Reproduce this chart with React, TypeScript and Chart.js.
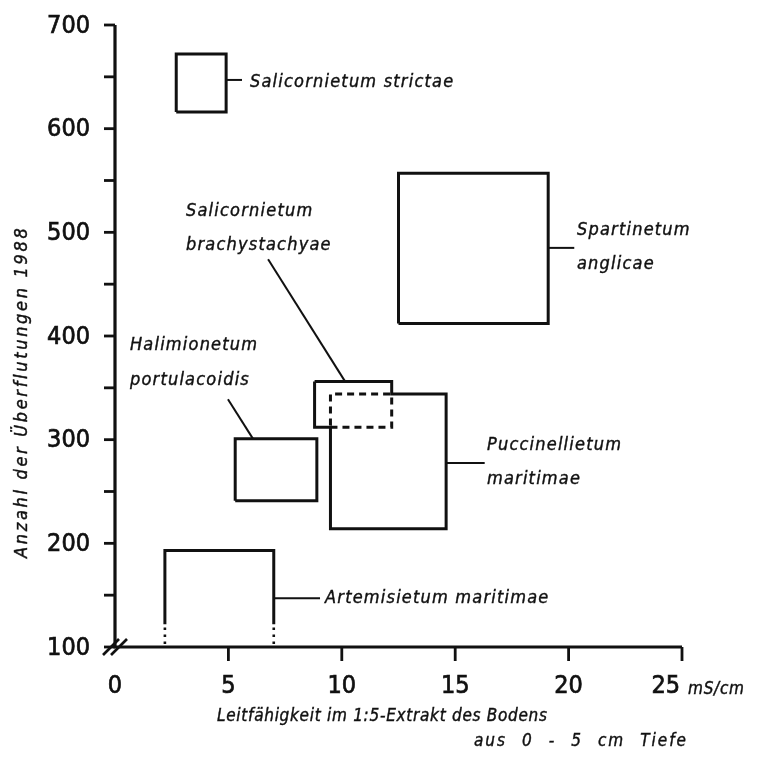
import React, { useEffect, useRef } from "react";
import { Chart, registerables } from "chart.js";

Chart.register(...registerables);

// ---- axis definition ----
const X_MIN = 0;
const X_MAX = 25;
const Y_MIN = 100;
const Y_MAX = 700;
const xTickValues = [0, 5, 10, 15, 20, 25];
const yTickValues = [100, 200, 300, 400, 500, 600, 700];
const yMinorTickValues = [150, 250, 350, 450, 550, 650];
const xUnit = "mS/cm";
const xTitleLines = ["Leitfähigkeit im 1:5-Extrakt des Bodens", "aus 0 - 5 cm Tiefe"];
const yTitle = "Anzahl der Überflutungen 1988";

// ---- data: plant communities, ranges of conductivity and flood counts ----
const communities = [
  "Salicornietum strictae",
  "Spartinetum anglicae",
  "Salicornietum brachystachyae",
  "Halimionetum portulacoidis",
  "Puccinellietum maritimae",
  "Artemisietum maritimae",
];
const condLow = [2.7, 12.5, 8.8, 5.3, 9.5, 2.2];
const condHigh = [4.9, 19.1, 12.2, 8.9, 14.6, 7.0];
const floodLow = [616, 412, 312, 241, 214, 122];
const floodHigh = [672, 557, 356, 301, 344, 193];

// label text lines per community
const labelLines = [
  ["Salicornietum strictae"],
  ["Spartinetum", "anglicae"],
  ["Salicornietum", "brachystachyae"],
  ["Halimionetum", "portulacoidis"],
  ["Puccinellietum", "maritimae"],
  ["Artemisietum maritimae"],
];

// annotation layout (data coordinates): label anchor and leader line
const labelAnchorX = [5.95, 20.37, 3.13, 0.66, 16.4, 9.26];
const labelAnchorY = [645, 502, 520.5, 391, 295, 146.5];
const leaderFrom = [
  [4.9, 647],
  [19.1, 485],
  [6.75, 474],
  [4.98, 339],
  [14.6, 277.5],
  [7.0, 147],
];
const leaderTo = [
  [5.6, 647],
  [20.25, 485],
  [10.15, 356],
  [6.08, 301],
  [16.3, 277.5],
  [9.04, 147],
];

type P = { x: number; y: number };

function rectPts(i: number): P[] {
  return [
    { x: condLow[i], y: floodLow[i] },
    { x: condLow[i], y: floodHigh[i] },
    { x: condHigh[i], y: floodHigh[i] },
    { x: condHigh[i], y: floodLow[i] },
    { x: condLow[i], y: floodLow[i] },
  ];
}

const INK = "#111111";

function buildDatasets() {
  const base = {
    showLine: true,
    pointRadius: 0,
    borderColor: INK,
    borderWidth: 3,
    fill: false,
    tension: 0,
    clip: false as any,
    borderJoinStyle: "miter" as const,
  };
  const ds: any[] = [];
  // simple rectangles
  [0, 1, 3].forEach((i) => ds.push({ ...base, label: communities[i], data: rectPts(i) }));
  // union outline of brachystachyae (2) and Puccinellietum (4)
  const b = 2;
  const p = 4;
  ds.push({
    ...base,
    label: communities[b] + " / " + communities[p],
    data: [
      { x: condLow[b], y: floodHigh[b] },
      { x: condHigh[b], y: floodHigh[b] },
      { x: condHigh[b], y: floodHigh[p] },
      { x: condHigh[p], y: floodHigh[p] },
      { x: condHigh[p], y: floodLow[p] },
      { x: condLow[p], y: floodLow[p] },
      { x: condLow[p], y: floodLow[b] },
      { x: condLow[b], y: floodLow[b] },
      { x: condLow[b], y: floodHigh[b] },
    ],
  });
  // overlap (dashed)
  ds.push({
    ...base,
    label: "overlap",
    borderDash: [7, 5],
    data: [
      { x: condLow[p], y: floodLow[b] },
      { x: condHigh[b], y: floodLow[b] },
      { x: condHigh[b], y: floodHigh[p] },
      { x: condLow[p], y: floodHigh[p] },
      { x: condLow[p], y: floodLow[b] },
    ],
  });
  // Artemisietum: open at the bottom, dotted continuation to the axis
  const a = 5;
  ds.push({
    ...base,
    label: communities[a],
    data: [
      { x: condLow[a], y: floodLow[a] },
      { x: condLow[a], y: floodHigh[a] },
      { x: condHigh[a], y: floodHigh[a] },
      { x: condHigh[a], y: floodLow[a] },
    ],
  });
  [condLow[a], condHigh[a]].forEach((xv) =>
    ds.push({
      ...base,
      label: "dotted",
      borderWidth: 2.6,
      borderDash: [2.5, 4.5],
      data: [
        { x: xv, y: Y_MIN + 3 },
        { x: xv, y: floodLow[a] - 2 },
      ],
    })
  );
  // leader lines
  leaderFrom.forEach((f, i) =>
    ds.push({
      ...base,
      label: "leader",
      borderWidth: 2,
      data: [
        { x: f[0], y: f[1] },
        { x: leaderTo[i][0], y: leaderTo[i][1] },
      ],
    })
  );
  return ds;
}

const FAMILY = '"DejaVu Sans Condensed", "DejaVu Sans", sans-serif';
const FONT_TICK = "25px " + FAMILY;
const FONT_LABEL = "italic 18px " + FAMILY;

function inkText(ctx: CanvasRenderingContext2D, t: string, x: number, y: number, stroke = 0.5) {
  ctx.fillText(t, x, y);
  if (stroke > 0) {
    ctx.lineWidth = stroke;
    ctx.strokeText(t, x, y);
  }
}

// draw text stretched to a given width by letter spacing
function fitText(ctx: CanvasRenderingContext2D, t: string, x: number, y: number, width: number) {
  (ctx as any).letterSpacing = "0px";
  const w = ctx.measureText(t).width;
  const ls = Math.max(0, (width - w) / Math.max(1, t.length - 1));
  (ctx as any).letterSpacing = ls + "px";
  inkText(ctx, t, x, y, 0.4);
  (ctx as any).letterSpacing = "0px";
}

// draw text stretched to a given width by word spacing (fixed letter spacing)
function fitWords(ctx: CanvasRenderingContext2D, t: string, x: number, y: number, width: number, ls: number) {
  (ctx as any).letterSpacing = ls + "px";
  (ctx as any).wordSpacing = "0px";
  const w = ctx.measureText(t).width;
  const gaps = t.split(" ").length - 1;
  const ws = Math.max(0, (width - w) / Math.max(1, gaps));
  (ctx as any).wordSpacing = ws + "px";
  inkText(ctx, t, x, y, 0.4);
  (ctx as any).wordSpacing = "0px";
  (ctx as any).letterSpacing = "0px";
}

const axesPlugin = {
  id: "handAxes",
  beforeDraw(chart: any) {
    const ctx = chart.ctx;
    ctx.save();
    ctx.fillStyle = "#ffffff";
    ctx.fillRect(0, 0, chart.width, chart.height);
    ctx.restore();
  },
  afterDraw(chart: any) {
    const ctx: CanvasRenderingContext2D = chart.ctx;
    const xs = chart.scales.x;
    const ys = chart.scales.y;
    const x0 = xs.getPixelForValue(X_MIN);
    const x1 = xs.getPixelForValue(X_MAX);
    const y0 = ys.getPixelForValue(Y_MIN);
    const y1 = ys.getPixelForValue(Y_MAX);
    ctx.save();
    ctx.strokeStyle = INK;
    ctx.fillStyle = INK;
    ctx.lineCap = "butt";
    // axes
    ctx.lineWidth = 3.2;
    ctx.beginPath();
    ctx.moveTo(x0, y1);
    ctx.lineTo(x0, y0);
    ctx.lineTo(x1, y0);
    ctx.stroke();
    // y ticks
    ctx.lineWidth = 2.8;
    [...yTickValues, ...yMinorTickValues].forEach((v) => {
      const py = ys.getPixelForValue(v);
      ctx.beginPath();
      ctx.moveTo(x0 - 11, py);
      ctx.lineTo(x0, py);
      ctx.stroke();
    });
    // x ticks
    xTickValues.forEach((v) => {
      if (v === X_MIN) return;
      const px = xs.getPixelForValue(v);
      ctx.beginPath();
      ctx.moveTo(px, y0);
      ctx.lineTo(px, y0 + 14);
      ctx.stroke();
    });
    // axis break mark at origin
    ctx.lineWidth = 2.6;
    [-4, 4].forEach((d) => {
      ctx.beginPath();
      ctx.moveTo(x0 + d - 8, y0 + 8);
      ctx.lineTo(x0 + d + 8, y0 - 8);
      ctx.stroke();
    });
    // tick labels
    ctx.font = FONT_TICK;
    ctx.textBaseline = "middle";
    ctx.textAlign = "right";
    yTickValues.forEach((v) => {
      inkText(ctx, String(v), x0 - 25, ys.getPixelForValue(v) + 1, 0.7);
    });
    xTickValues.forEach((v, i) => {
      const px = xs.getPixelForValue(v);
      const last = i === xTickValues.length - 1;
      ctx.textAlign = last ? "right" : "center";
      inkText(ctx, String(v), last ? px - 2 : px, y0 + 39, 0.7);
    });
    // unit
    ctx.font = "italic 17px " + FAMILY;
    ctx.textAlign = "left";
    fitText(ctx, xUnit, x1 + 6, y0 + 43, 56);

    // community labels
    ctx.font = FONT_LABEL;
    labelLines.forEach((lines, i) => {
      const lx = xs.getPixelForValue(labelAnchorX[i]);
      const ly = ys.getPixelForValue(labelAnchorY[i]);
      (ctx as any).letterSpacing = "1.2px";
      lines.forEach((t, k) => inkText(ctx, t, lx, ly + k * 34.5, 0.4));
      (ctx as any).letterSpacing = "0px";
    });

    // x title
    ctx.font = "italic 17px " + FAMILY;
    fitText(ctx, xTitleLines[0], 217, y0 + 70, 330);
    fitWords(ctx, xTitleLines[1], 474, y0 + 95, 214, 2);

    // y title (rotated)
    ctx.translate(22, 393);
    ctx.rotate(-Math.PI / 2);
    ctx.textAlign = "left";
    ctx.font = "italic 18px " + FAMILY;
    fitText(ctx, yTitle, -165, 0, 330);
    ctx.restore();
  },
};

export default function App() {
  const ref = useRef<HTMLCanvasElement | null>(null);
  useEffect(() => {
    if (!ref.current) return;
    const chart = new Chart(ref.current, {
      type: "scatter",
      data: { datasets: buildDatasets() },
      options: {
        responsive: false,
        animation: false,
        events: [],
        layout: { padding: { left: 115, right: 86, top: 25, bottom: 118 } },
        scales: {
          x: { type: "linear", min: X_MIN, max: X_MAX, display: false },
          y: { type: "linear", min: Y_MIN, max: Y_MAX, display: false },
        },
        plugins: { legend: { display: false }, tooltip: { enabled: false } },
      },
      plugins: [axesPlugin],
    });
    return () => chart.destroy();
  }, []);
  return (
    <div style={{ position: "absolute", left: 0, top: 0, width: 768, height: 765, background: "#fff" }}>
      <canvas ref={ref} width={768} height={765} style={{ display: "block" }} />
    </div>
  );
}
